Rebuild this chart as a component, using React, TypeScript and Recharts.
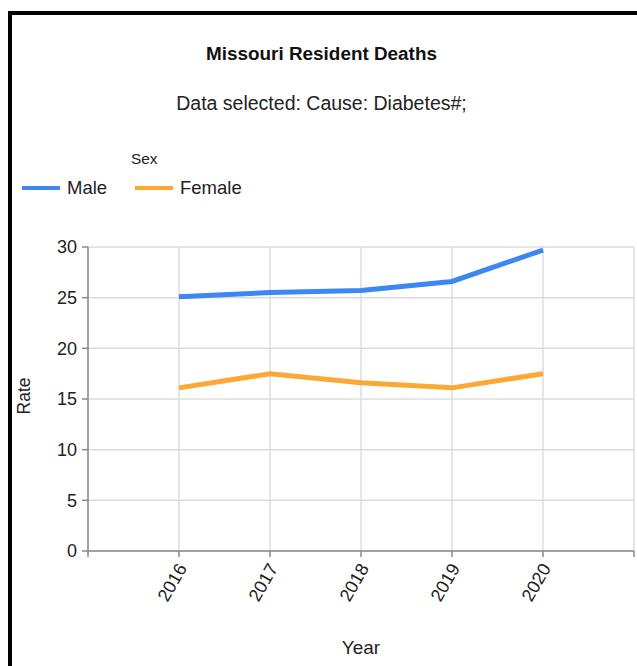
import React from 'react';
import { LineChart, Line, XAxis, YAxis, CartesianGrid, Legend, Label } from 'recharts';

const years = [2016, 2017, 2018, 2019, 2020];
const maleRates = [25.1, 25.5, 25.7, 26.6, 29.7];
const femaleRates = [16.1, 17.5, 16.6, 16.1, 17.5];
const yearTicks = [2015, 2016, 2017, 2018, 2019, 2020, 2021];
const rateTicks = [0, 5, 10, 15, 20, 25, 30];
const legendOrder = ['Male', 'Female'];

const data = years.map((year, i) => ({
  year,
  Male: maleRates[i],
  Female: femaleRates[i],
}));

const FONT = 'Arial, "Liberation Sans", sans-serif';
const MALE_COLOR = '#3d87f2';
const FEMALE_COLOR = '#fba934';

const YearTick = (props: any) => {
  const { x, y, payload } = props;
  if (payload.value === 2015 || payload.value === 2021) return null;
  return (
    <g transform={`translate(${x + 3},${y + 6})`}>
      <text
        x={0}
        y={0}
        dy="0.35em"
        textAnchor="end"
        transform="rotate(-60)"
        fill="#222"
        fontSize={18}
        fontFamily={FONT}
      >
        {payload.value}
      </text>
    </g>
  );
};

const SexLegend = (props: any) => {
  const items = [...(props.payload || [])].sort(
    (a: any, b: any) => legendOrder.indexOf(a.value) - legendOrder.indexOf(b.value)
  );
  return (
    <div style={{ fontFamily: FONT, color: '#222', position: 'relative', width: 300, height: 60 }}>
      <div style={{ position: 'absolute', left: 131, top: 8, fontSize: 15.4, lineHeight: '18px' }}>Sex</div>
      {items.map((entry: any, i: number) => (
        <div
          key={entry.value}
          style={{
            position: 'absolute',
            left: i === 0 ? 22 : 135,
            top: 35,
            display: 'flex',
            alignItems: 'center',
            fontSize: 18.5,
            lineHeight: '22px',
          }}
        >
          <span style={{ display: 'inline-block', width: 38, height: 4, background: entry.color, marginRight: 7 }} />
          <span>{entry.value}</span>
        </div>
      ))}
    </div>
  );
};

export default function App() {
  return (
    <div style={{ position: 'absolute', left: 0, top: 0, width: 637, height: 666, background: '#fff', overflow: 'hidden' }}>
      <div style={{ position: 'absolute', left: 8, top: 11, width: 629, height: 4, background: '#000' }} />
      <div style={{ position: 'absolute', left: 8, top: 11, width: 4, height: 655, background: '#000' }} />
      <div
        style={{
          position: 'absolute', left: 0, width: 643, top: 42, textAlign: 'center',
          fontFamily: FONT, fontWeight: 'bold', fontSize: 18.9, lineHeight: '24px', color: '#111',
        }}
      >
        Missouri Resident Deaths
      </div>
      <div
        style={{
          position: 'absolute', left: 0, width: 643, top: 91, textAlign: 'center',
          fontFamily: FONT, fontSize: 19.5, lineHeight: '24px', color: '#222',
        }}
      >
        Data selected: Cause: Diabetes#;
      </div>
      <div style={{ position: 'absolute', left: 0, top: 0 }}>
        <LineChart width={637} height={666} data={data} margin={{ top: 247, right: 3, bottom: 0, left: 12 }}>
          <CartesianGrid stroke="#dcdcdc" strokeWidth={1.5} />
          <XAxis
            dataKey="year"
            type="number"
            domain={[2015, 2021]}
            ticks={yearTicks}
            interval={0}
            height={115}
            stroke="#8a8a8a"
            strokeWidth={1.5}
            tickSize={6}
            tick={<YearTick />}
          >
            <Label
              value="Year"
              position="insideBottom"
              offset={12}
              fill="#222"
              fontSize={19}
              fontFamily={FONT}
            />
          </XAxis>
          <YAxis
            domain={[0, 30]}
            ticks={rateTicks}
            interval={0}
            width={76}
            stroke="#8a8a8a"
            strokeWidth={1.5}
            tickSize={6}
            tickMargin={5}
            tick={{ fill: '#222', fontSize: 18, fontFamily: FONT }}
          >
            <Label
              content={(p: any) => {
                const vb = p.viewBox || {};
                const cx = vb.x + 12;
                const cy = vb.y + vb.height / 2 - 3;
                return (
                  <text
                    x={cx}
                    y={cy}
                    transform={`rotate(-90, ${cx}, ${cy})`}
                    textAnchor="middle"
                    dominantBaseline="central"
                    fill="#222"
                    fontSize={17.5}
                    fontFamily={FONT}
                  >
                    Rate
                  </text>
                );
              }}
            />
          </YAxis>
          <Legend
            layout="horizontal"
            verticalAlign="middle"
            align="center"
            content={<SexLegend />}
            wrapperStyle={{ left: 0, top: 142, width: 300, height: 60 }}
          />
          <Line
            type="linear"
            dataKey="Male"
            stroke={MALE_COLOR}
            strokeWidth={5}
            dot={false}
            activeDot={false}
            isAnimationActive={false}
          />
          <Line
            type="linear"
            dataKey="Female"
            stroke={FEMALE_COLOR}
            strokeWidth={5}
            dot={false}
            activeDot={false}
            isAnimationActive={false}
          />
        </LineChart>
      </div>
    </div>
  );
}
